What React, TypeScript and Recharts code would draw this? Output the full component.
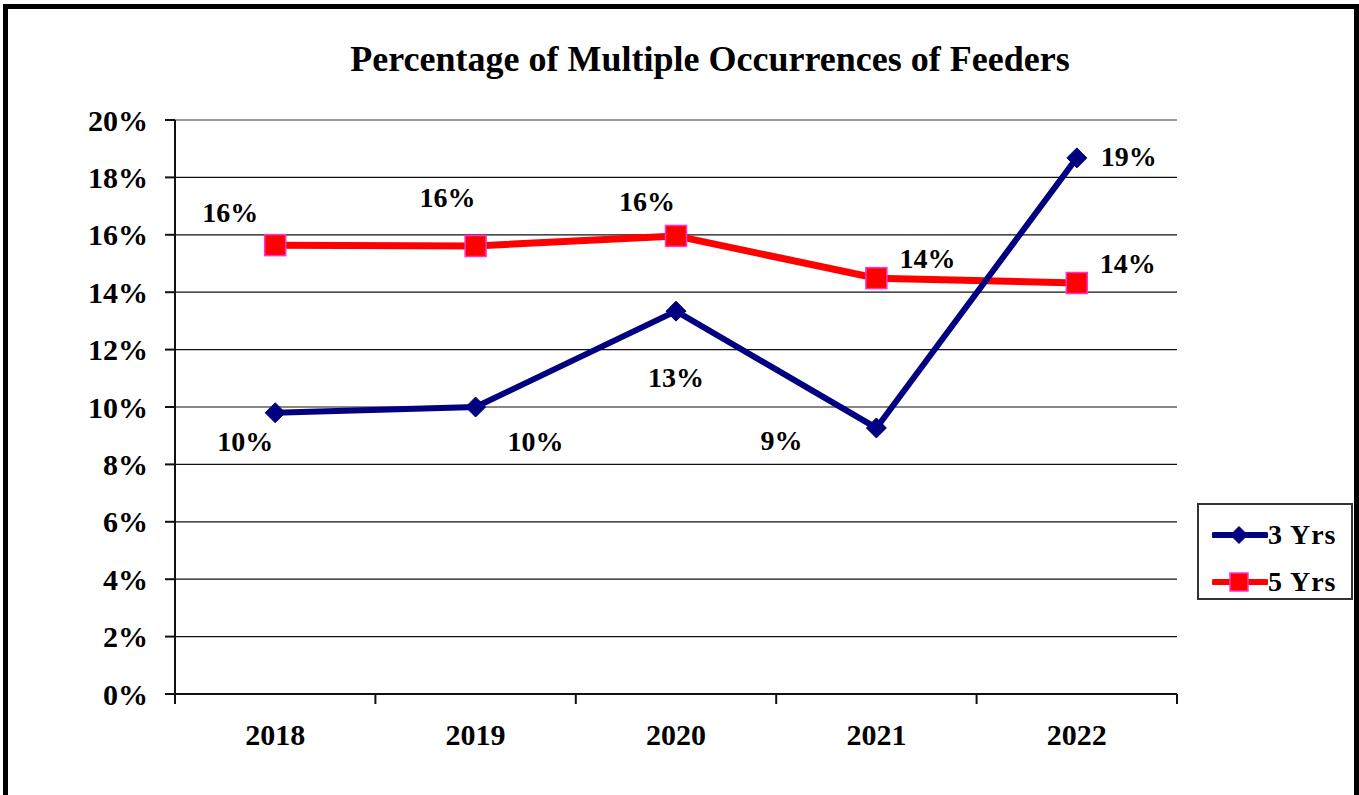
import { LineChart, Line, XAxis, YAxis, CartesianGrid, Legend, LabelList, ReferenceLine } from "recharts";

// values (fractions, 0.10 = 10%)
const years = ["2018", "2019", "2020", "2021", "2022"];
const threeYrs = [0.098, 0.1, 0.1334, 0.0927, 0.1868];
const fiveYrs = [0.1564, 0.1561, 0.1596, 0.1449, 0.1432];
const yTicks = [0, 0.02, 0.04, 0.06, 0.08, 0.1, 0.12, 0.14, 0.16, 0.18, 0.2];

// manual label placement, offsets from the point (like the hand-placed labels in the original)
const LABEL_OFFSET_3Y = [[-30, 29], [60, 34], [0, 66], [-95, 13], [52, -1]];
const LABEL_OFFSET_5Y = [[-45, -33], [-28, -48], [-29, -34], [51, -20], [51, -20]];

const NAVY = "#000080";
const RED = "#ff0000";
const FONT = '"Liberation Serif", "Times New Roman", serif';
const TICK_SIZE = 10;
const X_TICK_MARGIN = 20;

const data = years.map((year, i) => ({ year, three: threeYrs[i], five: fiveYrs[i] }));

const pct = (v: number) => `${Math.round(v * 100)}%`;

const Diamond = ({ cx, cy, size = 20 }: { cx: number; cy: number; size?: number }) => {
  const h = size / 2;
  return <path d={`M${cx},${cy - h} L${cx + h},${cy} L${cx},${cy + h} L${cx - h},${cy} Z`} fill={NAVY} stroke={NAVY} />;
};

const Square = ({ cx, cy, size = 21 }: { cx: number; cy: number; size?: number }) => (
  <rect x={cx - size / 2} y={cy - size / 2} width={size} height={size} fill={RED} stroke="#ff33cc" strokeWidth={1.5} />
);

const makeLabel = (offsets: number[][]) => (props: any) => {
  const { x, y, value, index } = props;
  const [dx, dy] = offsets[index] || [0, -20];
  return (
    <text x={x + dx} y={y + dy} textAnchor="middle" dominantBaseline="central" fontFamily={FONT} fontWeight="bold" fontSize={28} fill="#000">
      {pct(value)}
    </text>
  );
};

// year label in the middle of the band, tick marks on the band edges (Excel style)
const YearTick = (props: any) => {
  const { x, y, payload, index, width, visibleTicksCount } = props;
  const band = width && visibleTicksCount ? width / visibleTicksCount : 200;
  const axisY = y - TICK_SIZE - X_TICK_MARGIN;
  return (
    <g>
      <line x1={x - band / 2} x2={x - band / 2} y1={axisY} y2={axisY + TICK_SIZE} stroke="#111" strokeWidth={2} />
      {index === visibleTicksCount - 1 && (
        <line x1={x + band / 2} x2={x + band / 2} y1={axisY} y2={axisY + TICK_SIZE} stroke="#111" strokeWidth={2} />
      )}
      <text x={x} y={y} dy="0.71em" textAnchor="middle" fontFamily={FONT} fontWeight="bold" fontSize={30} fill="#000">
        {payload.value}
      </text>
    </g>
  );
};

const LegendBox = () => {
  const rows = [
    { name: "3 Yrs", color: NAVY, marker: <Diamond cx={27} cy={13} size={17} /> },
    { name: "5 Yrs", color: RED, marker: <Square cx={27} cy={13} size={18} /> },
  ];
  return (
    <div style={{ width: 156, height: 97, border: "2px solid #333", background: "#fff", paddingTop: 12, boxSizing: "border-box" }}>
      {rows.map((r) => (
        <div key={r.name} style={{ display: "flex", alignItems: "center", height: 36, marginBottom: 11, paddingLeft: 13 }}>
          <svg width={56} height={26}>
            <line x1={2} x2={54} y1={13} y2={13} stroke={r.color} strokeWidth={6} strokeLinecap="round" />
            {r.marker}
          </svg>
          <span style={{ fontFamily: FONT, fontWeight: "bold", fontSize: 28, color: "#000", letterSpacing: 1 }}>{r.name}</span>
        </div>
      ))}
    </div>
  );
};

export default function App() {
  return (
    <div style={{ position: "absolute", left: 0, top: 0, width: 1359, height: 795, background: "#fff", overflow: "hidden" }}>
      {/* slide frame */}
      <div style={{ position: "absolute", left: 3, top: 4, width: 1356, height: 5, background: "#000" }} />
      <div style={{ position: "absolute", left: 3, top: 4, width: 5, height: 791, background: "#000" }} />
      <div style={{ position: "absolute", left: 1354, top: 4, width: 5, height: 791, background: "#000" }} />

      <div style={{ position: "absolute", left: 210, top: 41, width: 1000, textAlign: "center", fontFamily: FONT, fontWeight: "bold", fontSize: 36, lineHeight: "36px", color: "#000" }}>
        Percentage of Multiple Occurrences of Feeders
      </div>

      <LineChart width={1359} height={795} data={data} margin={{ top: 120, right: 182, left: 0, bottom: 0 }}>
        <CartesianGrid horizontal vertical={false} stroke="#111" strokeWidth={1.2} />
        <XAxis
          dataKey="year"
          scale="band"
          height={101}
          tickLine={false}
          tickSize={TICK_SIZE}
          tickMargin={X_TICK_MARGIN}
          axisLine={{ stroke: "#111", strokeWidth: 2 }}
          tick={<YearTick />}
          interval={0}
        />
        <YAxis
          width={175}
          domain={[0, 0.2]}
          ticks={yTicks}
          tickFormatter={pct}
          tickSize={TICK_SIZE}
          tickMargin={17}
          axisLine={{ stroke: "#111", strokeWidth: 2 }}
          tickLine={{ stroke: "#111", strokeWidth: 2 }}
          tick={{ fontFamily: FONT, fontWeight: "bold", fontSize: 30, fill: "#000" }}
        />
        <YAxis yAxisId="frame" orientation="right" width={0} domain={[0, 0.2]} tick={false} tickLine={false} axisLine={{ stroke: "#999", strokeWidth: 2 }} />
        <ReferenceLine y={0.2} stroke="#999" strokeWidth={2} />
        <Legend layout="vertical" align="center" verticalAlign="middle" content={<LegendBox />} wrapperStyle={{ left: 1197, top: 503, width: 156, height: 97 }} />
        <Line
          dataKey="five"
          name="5 Yrs"
          stroke={RED}
          strokeWidth={7}
          isAnimationActive={false}
          dot={(p: any) => <Square key={`s-${p.index}`} cx={p.cx} cy={p.cy} />}
          activeDot={false}
        >
          <LabelList dataKey="five" content={makeLabel(LABEL_OFFSET_5Y)} />
        </Line>
        <Line
          dataKey="three"
          name="3 Yrs"
          stroke={NAVY}
          strokeWidth={6}
          isAnimationActive={false}
          dot={(p: any) => <Diamond key={`d-${p.index}`} cx={p.cx} cy={p.cy} />}
          activeDot={false}
        >
          <LabelList dataKey="three" content={makeLabel(LABEL_OFFSET_3Y)} />
        </Line>
      </LineChart>
    </div>
  );
}
